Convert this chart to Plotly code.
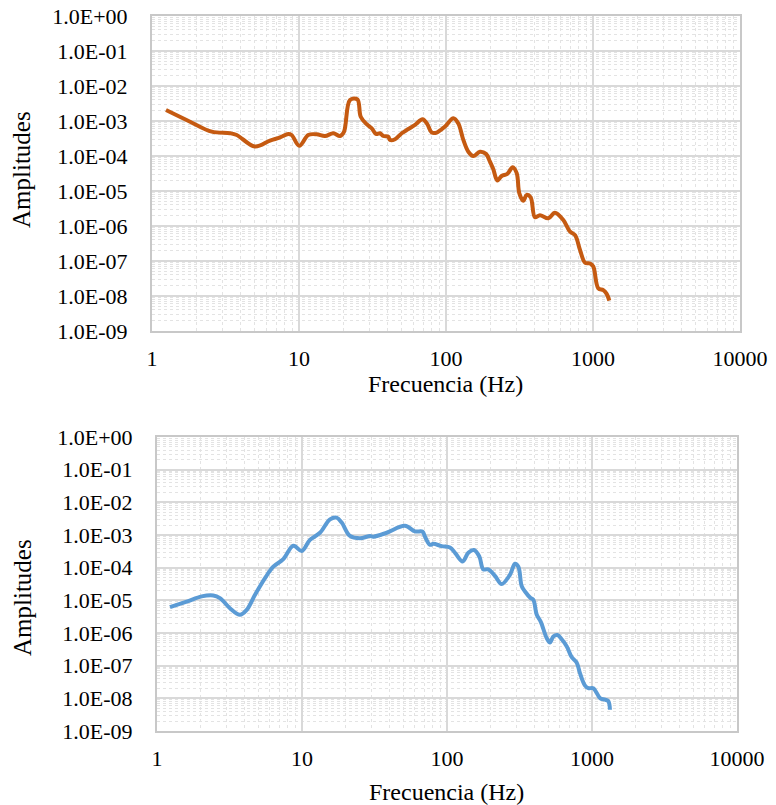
import plotly.graph_objects as go

# ---- data ----
freq_top = [1.245, 1.815, 2.547, 3.40, 3.77, 5.01, 6.35, 7.43, 8.45, 8.91, 10.05, 11.56, 13.18,
            15.03, 17.10, 19.01, 20.23, 22.23, 24.95, 26.30, 28.84, 31.26, 33.42, 35.56, 37.50,
            40.46, 41.59, 44.98, 50.0, 55.46, 61.5, 69.3, 74.6, 80.0, 86.5, 98.4, 112.2, 121.3,
            131.2, 141.9, 153.5, 170.2, 187.1, 199.1, 209.9, 223.4, 239.3, 261.2, 284.4, 302.7,
            315.5, 335.7, 354.0, 376.7, 402.7, 435.5, 496.6, 550.8, 628.1, 698.2, 755.1, 816.6,
            883.1, 955.0, 1004.6, 1086.4, 1174.9, 1238.8, 1291.2]
amp_top = [2.06e-3, 9.55e-4, 4.95e-4, 4.47e-4, 3.98e-4, 1.86e-4, 2.75e-4, 3.39e-4, 4.27e-4,
           3.98e-4, 1.95e-4, 3.98e-4, 4.17e-4, 3.72e-4, 4.47e-4, 3.72e-4, 4.90e-4, 3.98e-3,
           4.17e-3, 1.32e-3, 8.13e-4, 6.17e-4, 4.27e-4, 4.47e-4, 3.72e-4, 3.55e-4, 2.88e-4,
           3.02e-4, 4.47e-4, 5.89e-4, 7.76e-4, 1.12e-3, 8.13e-4, 4.68e-4, 4.68e-4, 6.92e-4,
           1.20e-3, 8.51e-4, 2.88e-4, 1.32e-4, 1.00e-4, 1.32e-4, 1.15e-4, 6.92e-5, 4.17e-5,
           2.00e-5, 2.69e-5, 3.09e-5, 4.79e-5, 3.24e-5, 8.51e-6, 5.25e-6, 7.76e-6, 6.61e-6,
           1.78e-6, 2.04e-6, 1.66e-6, 2.40e-6, 1.48e-6, 6.92e-7, 5.50e-7, 2.04e-7, 8.91e-8,
           8.51e-8, 6.92e-8, 1.66e-8, 1.48e-8, 1.15e-8, 7.41e-9]

freq_bot = [1.229, 1.603, 2.032, 2.443, 2.716, 3.184, 3.733, 4.159, 4.742, 5.559, 6.339, 7.430,
            8.710, 9.954, 11.35, 13.30, 15.60, 17.34, 18.79, 21.43, 25.12, 29.44, 31.05, 38.37,
            51.29, 60.12, 67.92, 70.47, 76.38, 80.54, 91.83, 104.9, 114.3, 128.2, 140.3, 153.5,
            167.1, 177.8, 192.8, 214.3, 238.2, 271.6, 294.4, 310.5, 327.3, 345.1, 377.6, 393.6,
            415.9, 442.6, 487.5, 512.9, 540.8, 576.8, 618.0, 669.9, 724.4, 783.4, 826.0, 895.4,
            944.1, 1021, 1135, 1230, 1297, 1330]
amp_bot = [6.17e-6, 9.12e-6, 1.32e-5, 1.41e-5, 1.17e-5, 5.75e-6, 3.63e-6, 5.13e-6, 1.48e-5,
           4.79e-5, 1.07e-4, 1.82e-4, 4.68e-4, 3.24e-4, 7.08e-4, 1.17e-3, 3.02e-3, 3.39e-3,
           2.40e-3, 9.33e-4, 7.94e-4, 9.33e-4, 8.91e-4, 1.17e-3, 1.91e-3, 1.29e-3, 1.26e-3,
           8.91e-4, 5.01e-4, 5.37e-4, 4.57e-4, 4.17e-4, 2.75e-4, 1.55e-4, 2.88e-4, 3.47e-4,
           2.19e-4, 8.91e-5, 8.91e-5, 5.62e-5, 3.16e-5, 6.03e-5, 1.32e-4, 1.07e-4, 2.75e-5,
           1.86e-5, 1.17e-5, 1.05e-5, 3.63e-6, 2.24e-6, 6.92e-7, 5.13e-7, 7.76e-7, 8.71e-7,
           6.46e-7, 3.89e-7, 1.82e-7, 1.26e-7, 5.89e-8, 2.45e-8, 2.04e-8, 2.04e-8, 1.02e-8,
           9.12e-9, 8.13e-9, 4.47e-9]

x_tickvals = [1, 10, 100, 1000, 10000]
x_ticktext = ["1", "10", "100", "1000", "10000"]
y_tickvals = [1e0, 1e-1, 1e-2, 1e-3, 1e-4, 1e-5, 1e-6, 1e-7, 1e-8, 1e-9]
y_ticktext = ["1.0E+00", "1.0E-01", "1.0E-02", "1.0E-03", "1.0E-04",
              "1.0E-05", "1.0E-06", "1.0E-07", "1.0E-08", "1.0E-09"]

x_title = "Frecuencia (Hz)"
y_title = "Amplitudes"

W, H = 776, 805
FONT = "Liberation Serif, Times New Roman, serif"
TICK_SIZE = 22
XTITLE_SIZE = 24
YTITLE_SIZE = 25

fig = go.Figure()
fig.add_trace(go.Scatter(x=freq_top, y=amp_top, mode="lines", line_shape="spline",
                         line=dict(color="#C55A11", width=4), xaxis="x", yaxis="y",
                         showlegend=False, hoverinfo="skip"))
fig.add_trace(go.Scatter(x=freq_bot, y=amp_bot, mode="lines", line_shape="spline",
                         line=dict(color="#5B9BD5", width=4), xaxis="x2", yaxis="y2",
                         showlegend=False, hoverinfo="skip"))

def xax(domain, anchor):
    return dict(type="log", range=[0, 4], domain=domain, anchor=anchor, automargin=False,
                tickvals=x_tickvals, ticktext=x_ticktext, ticks="",
                showgrid=True, gridcolor="#D9D9D9", gridwidth=2,
                showline=True, linecolor="#C8C8C8", linewidth=2, mirror=True,
                zeroline=False, ticklabelstandoff=7,
                tickfont=dict(family=FONT, size=TICK_SIZE, color="#000000"),
                minor=dict(tickmode="linear", dtick="D1", showgrid=True, gridcolor="#E3E3E3",
                           griddash="dot", gridwidth=1, ticks=""))

def yax(domain, anchor):
    return dict(type="log", range=[-9, 0], domain=domain, anchor=anchor, automargin=False,
                tickvals=y_tickvals, ticktext=y_ticktext, ticks="",
                showgrid=True, gridcolor="#D9D9D9", gridwidth=2,
                showline=True, linecolor="#C8C8C8", linewidth=2, mirror=True,
                zeroline=False, ticklabelstandoff=18,
                tickfont=dict(family=FONT, size=TICK_SIZE, color="#000000"),
                minor=dict(tickmode="linear", dtick="D1", showgrid=True, gridcolor="#E3E3E3",
                           griddash="dot", gridwidth=1, ticks=""))

top_x = [152 / W, 740 / W]
top_y = [1 - 331 / H, 1 - 16 / H]
bot_x = [157 / W, 737 / W]
bot_y = [1 - 731 / H, 1 - 437 / H]

fig.update_layout(
    template="none",
    width=W, height=H, autosize=False,
    margin=dict(l=0, r=0, t=0, b=0, pad=0, autoexpand=False),
    paper_bgcolor="white", plot_bgcolor="white",
    xaxis=xax(top_x, "y"), yaxis=yax(top_y, "x"),
    xaxis2=xax(bot_x, "y2"), yaxis2=yax(bot_y, "x2"),
    font=dict(family=FONT, color="#000000"),
    hovermode=False,
)

ann = dict(xref="paper", yref="paper", showarrow=False, xanchor="center", yanchor="middle")
yfont = dict(family=FONT, size=YTITLE_SIZE, color="#000000")
xfont = dict(family=FONT, size=XTITLE_SIZE, color="#000000")
fig.add_annotation(text=y_title, x=22 / W, y=1 - 170 / H, textangle=-90, font=yfont, **ann)
fig.add_annotation(text=y_title, x=22 / W, y=1 - 598 / H, textangle=-90, font=yfont, **ann)
fig.add_annotation(text=x_title, x=446 / W, y=1 - 384 / H, font=xfont, **ann)
fig.add_annotation(text=x_title, x=447 / W, y=1 - 792 / H, font=xfont, **ann)

fig.write_html("out.html", config={"displayModeBar": False, "responsive": False},
               post_script="document.body.style.margin='0px';")
